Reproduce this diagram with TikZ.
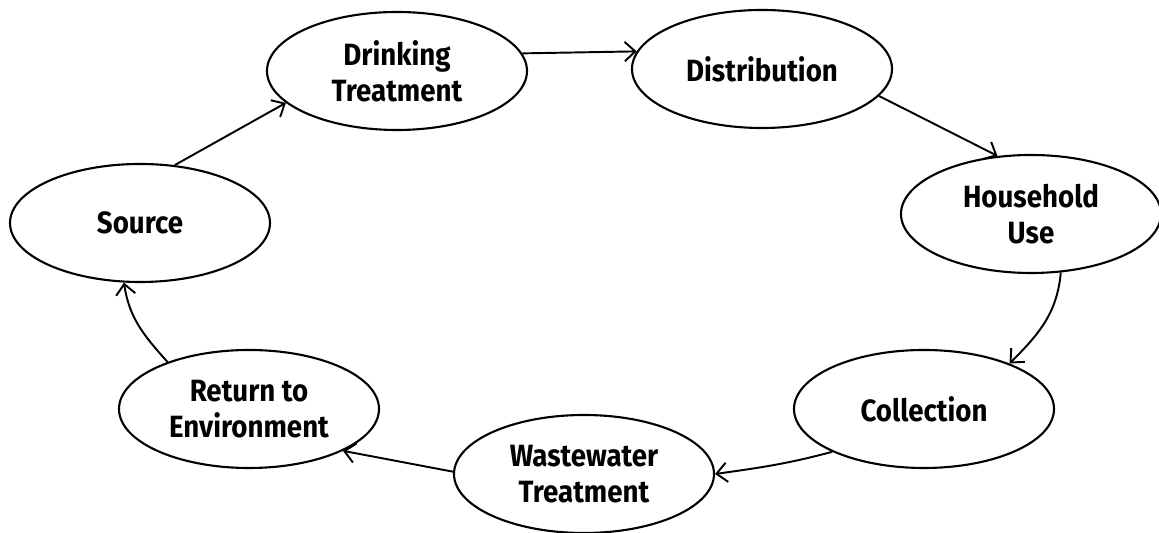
\documentclass[tikz,border=0pt]{standalone}
\usepackage{fontspec}
\newfontfamily\stagefont{Fira Sans}[FakeStretch=0.9]
\usetikzlibrary{shapes.geometric, arrows.meta}

\tikzset{
  stage/.style={ellipse, draw, line width=1.2pt, minimum width=5.2cm, minimum height=2.36cm,
    inner sep=0pt, align=center, font=\stagefont\bfseries\fontsize{17.5}{20.5}\selectfont},
  arrow/.style={-{Straight Barb[length=6pt, width=11pt, line width=1.1pt]}, line width=1.1pt},
}

\begin{document}
\begin{tikzpicture}
  \useasboundingbox (0,0) rectangle (23.18,10.66);

  % Wasserkreislauf: Stationen
  \node[stage] (src)   at (2.80,  6.20) {Source};
  \node[stage] (drink) at (7.94,  9.24) {Drinking\\Treatment};
  \node[stage] (dist)  at (15.24, 9.28) {Distribution};
  \node[stage] (house) at (20.62, 6.38) {Household\\Use};
  \node[stage] (coll)  at (18.48, 2.48) {Collection};
  \node[stage] (waste) at (11.68, 1.18) {Wastewater\\Treatment};
  \node[stage] (ret)   at (4.98,  2.48) {Return to\\Environment};

  % Oberer Bogen
  \draw[arrow] (src.59) -- (drink.196);
  \draw[arrow] (drink.8) -- (dist.172);
  \draw[arrow] (dist.347) -- (house.120);

  % Rechte Seite (gebogen)
  \draw[arrow] (house.297) to[out=265, in=45] (coll.28);

  % Unterer Bogen
  \draw[arrow] (coll.205) to[out=195, in=8] (waste.0);
  \draw[arrow] (waste.179) -- (ret.336);

  % Linke Seite (gebogen)
  \draw[arrow] (ret.150) to[out=132, in=278] (src.255);

\end{tikzpicture}
\end{document}
